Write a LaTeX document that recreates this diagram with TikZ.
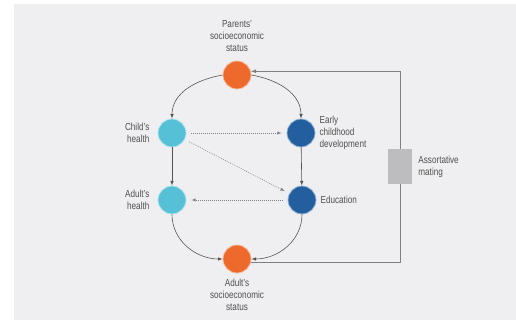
\documentclass[tikz,border=0pt]{standalone}
\usepackage{fontspec}
\setmainfont{Liberation Sans}[FakeStretch=0.8]
\usepackage{tikz}
\usetikzlibrary{positioning}
\tikzset{>=latex}
\definecolor{sesorange}{HTML}{EE6A2C}
\definecolor{healthblue}{HTML}{55C0D6}
\definecolor{schoolblue}{HTML}{235F9E}
\definecolor{bggray}{HTML}{EFEFF1}
\definecolor{boxgray}{HTML}{BDBDBD}
\definecolor{txtgray}{HTML}{505050}
\definecolor{linegray}{HTML}{555555}

\begin{document}
\begin{tikzpicture}[x=1pt,y=1pt,
    ball/.style={circle,minimum size=28pt,inner sep=0pt,fill=#1,draw=#1!45!white,line width=0.8pt},
    lbl/.style={inner sep=0pt,text=txtgray,font=\fontsize{10.2}{12}\selectfont},
    link/.style={->,draw=linegray,line width=0.6pt},
    weak/.style={->,draw=gray,line width=0.5pt,dash pattern=on 1pt off 1pt,shorten <=5pt,shorten >=5pt},
    feedback/.style={draw=gray,line width=0.8pt}]
            \useasboundingbox (0,0) rectangle (516,332);
            \fill[bggray] (14,12) rectangle (516,328);
            \node[ball=sesorange] (par) at (237,257) {};
            \node[ball=healthblue] (chh) at (172,199) {};
            \node[ball=schoolblue] (ecd) at (301,199) {};
            \node[ball=healthblue] (adh) at (172,132) {};
            \node[ball=schoolblue] (edu) at (302,132) {};
            \node[ball=sesorange] (ases) at (237,73) {};
            \node[fill=boxgray,minimum width=24pt,minimum height=35pt,inner sep=0pt] (mate) at (400,165.5) {};
            \node[lbl,align=center,above=9pt of par] (parlbl) {Parents'\\socioeconomic\\status};
            \node[lbl,align=right,left=8pt of chh] (chhlbl) {Child's\\health};
            \node[lbl,align=left,right=4pt of ecd] (ecdlbl) {Early\\childhood\\development};
            \node[lbl,align=right,left=8pt of adh] (adhlbl) {Adult's\\health};
            \node[lbl,right=4pt of edu] (edulbl) {Education};
            \node[lbl,align=center,below=6pt of ases] (aseslbl) {Adult's\\socioeconomic\\status};
            \node[lbl,align=left,right=6pt of mate] (matelbl) {Assortative\\mating};
            \draw[link] (par.west) to[out=190,in=90] (chh.north);
            \draw[link] (par.east) to[out=-10,in=90] (ecd.north);
            \draw[link] (chh) -- (adh);
            \draw[link] (ecd) -- (edu);
            \draw[link] (adh.south) to[out=-90,in=180] (ases.west);
            \draw[link] (edu.south) to[out=-90,in=0] (ases.east);
            \draw[weak] (chh) -- (ecd);
            \draw[weak] (chh) -- (edu);
            \draw[weak] (edu) -- (adh);
            \draw[feedback] (ases.-15) -| (mate.south);
            \draw[feedback,->] (mate.north) |- (par.15);
        \end{tikzpicture}
\end{document}
